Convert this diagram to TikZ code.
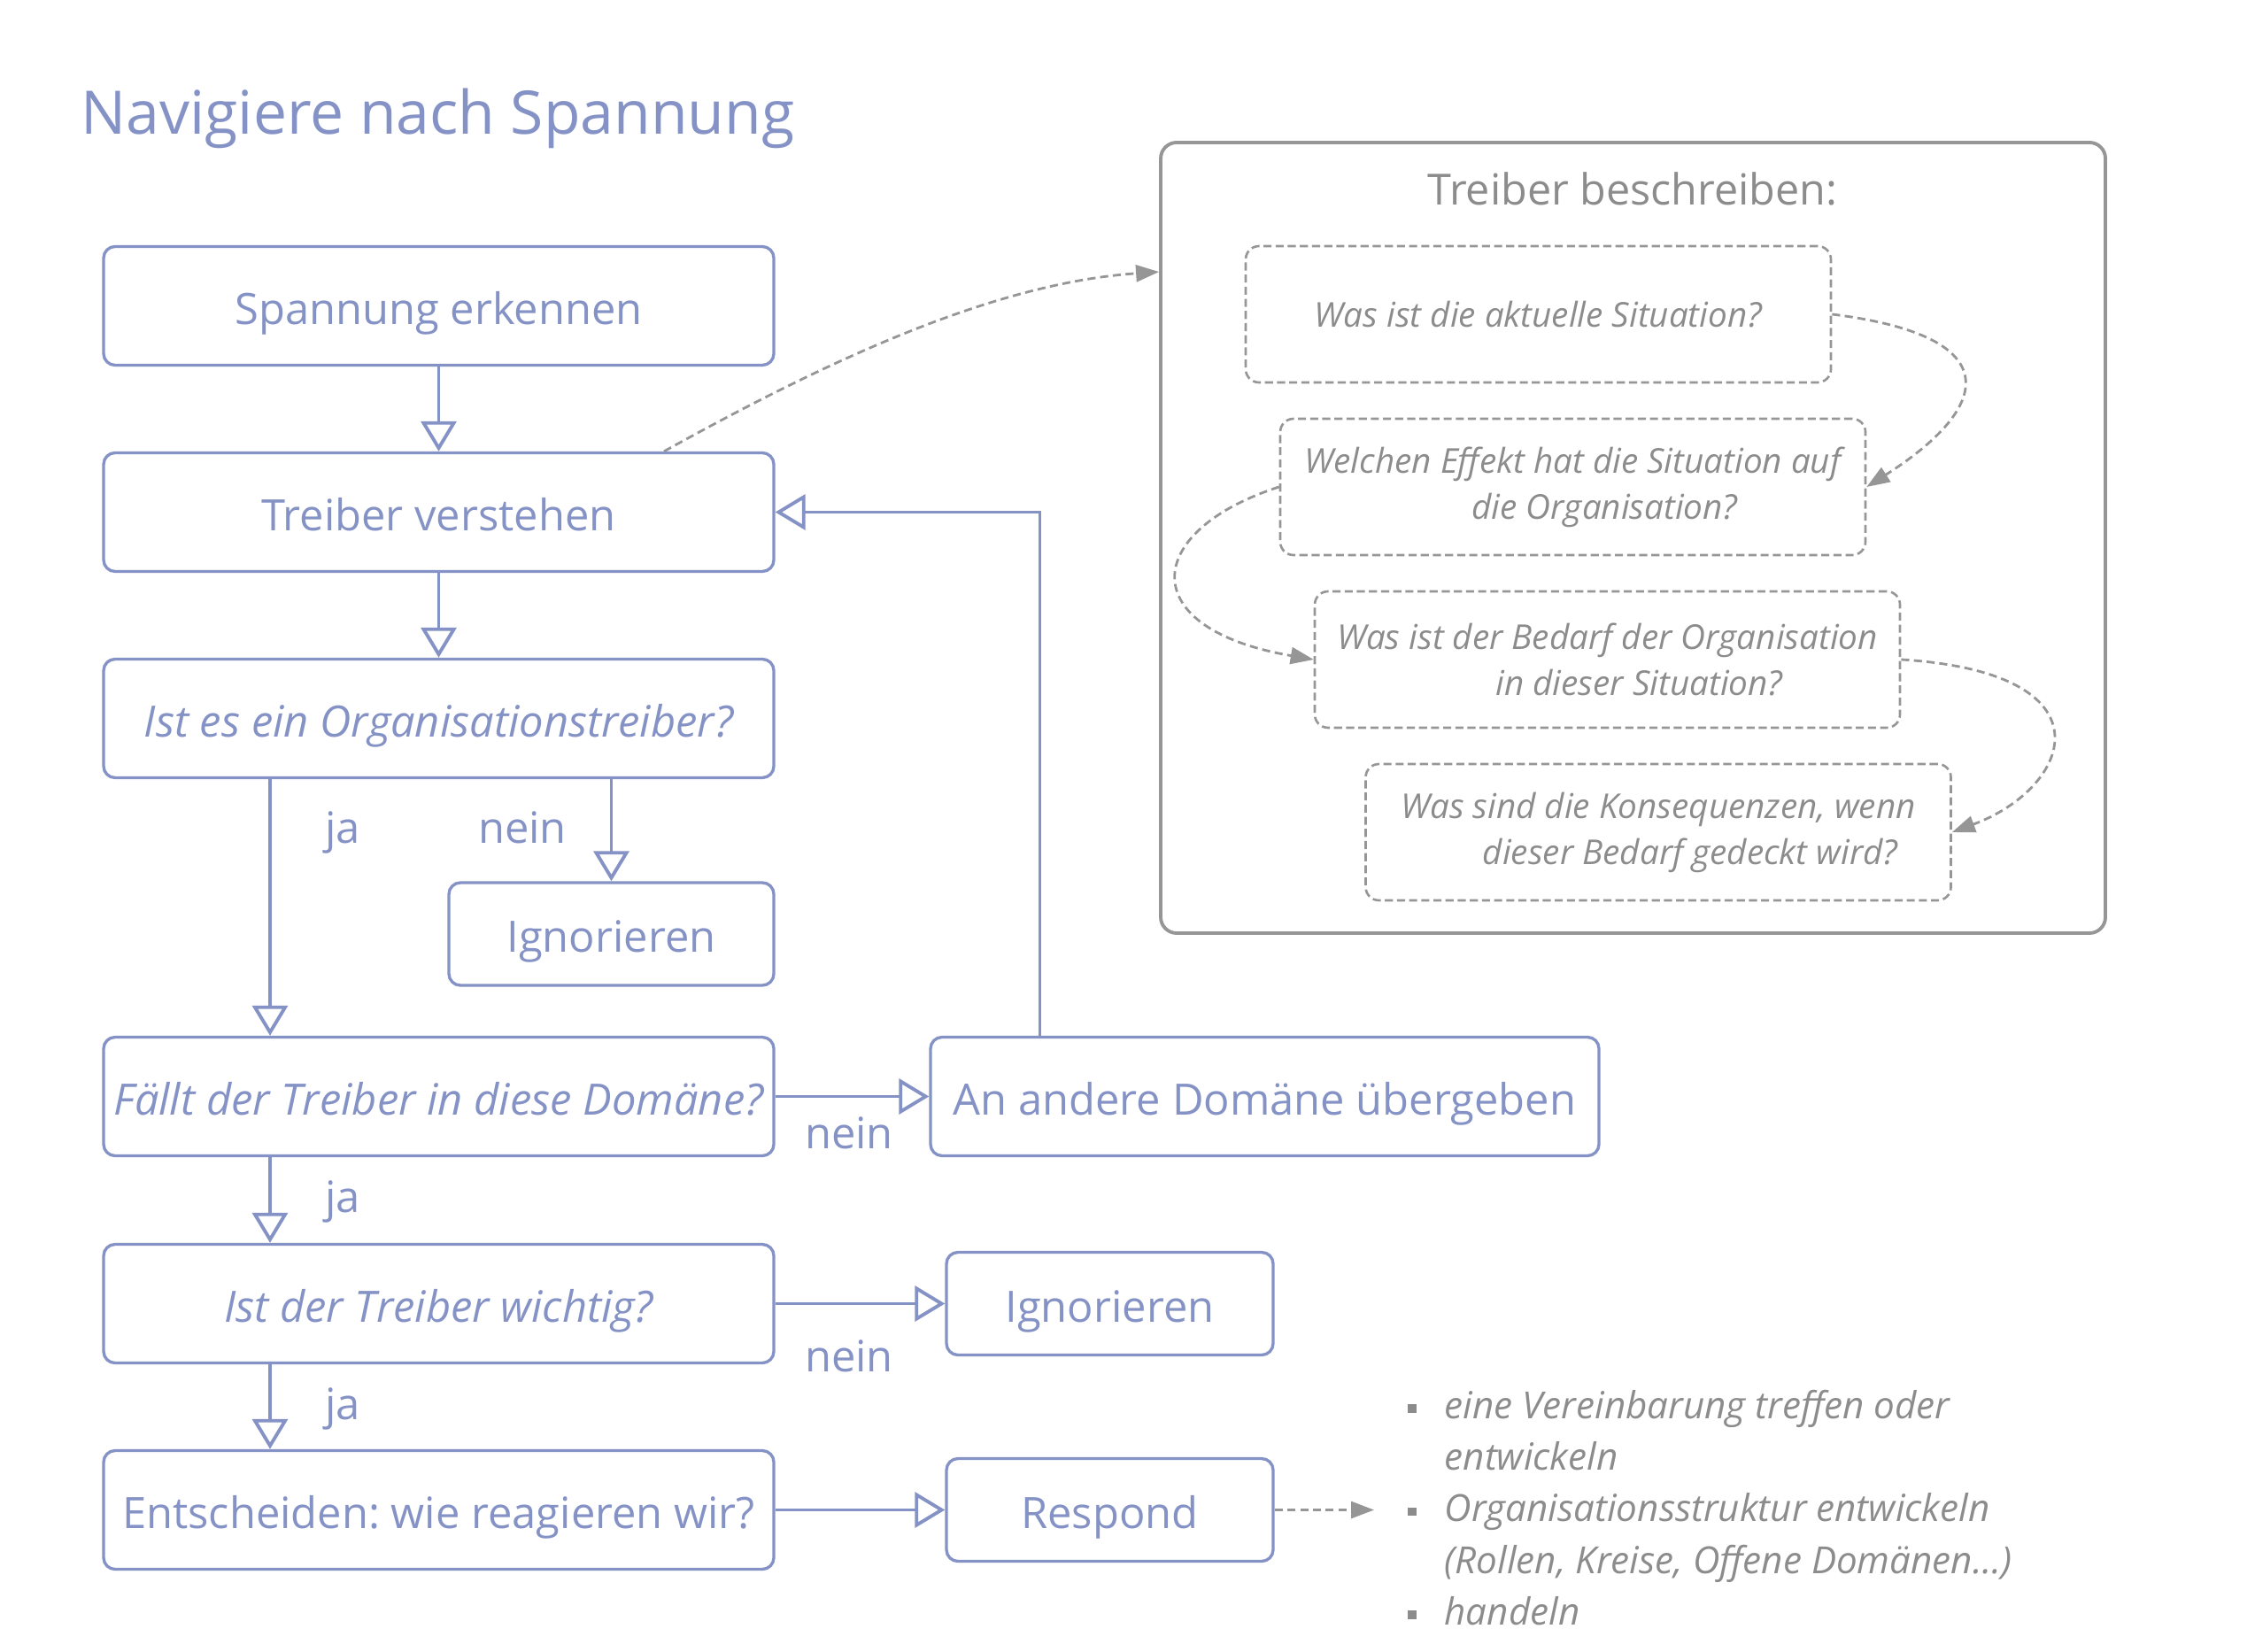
\documentclass[tikz,border=0pt]{standalone}
\usepackage{fontspec}
\setmainfont{Open Sans}
\usetikzlibrary{arrows.meta}
\definecolor{sblue}{RGB}{133,146,197}
\definecolor{sgrey}{RGB}{140,140,140}
\definecolor{sline}{RGB}{150,150,150}
\newcommand{\sqbul}{\textcolor{sgrey}{\rule[1.8pt]{2.8pt}{2.8pt}}}
\frenchspacing

\begin{document}
\begin{tikzpicture}[
 box/.style={draw=sblue, line width=0.95pt, rounded corners=0.13cm, text=sblue, font=\fontsize{13.9}{16}\selectfont, minimum width=7.57cm, minimum height=1.34cm, inner sep=0pt, text height=11.8pt, text depth=0pt},
 qbox/.style={box, font=\fontsize{13.9}{16}\selectfont\itshape},
 sbox/.style={box, minimum width=3.69cm, minimum height=1.16cm},
 askbox/.style={draw=sline, line width=0.75pt, dash pattern=on 2.6pt off 1.3pt, rounded corners=0.15cm, text=sgrey, font=\fontsize{11}{14.8}\selectfont\itshape, align=center, minimum width=6.61cm, minimum height=1.54cm, inner sep=0pt},
 flow/.style={draw=sblue, line width=1.1pt, -{Triangle[open,length=0.34cm,width=0.4cm]}},
 dflow/.style={draw=sline, line width=0.8pt, dash pattern=on 2.6pt off 1.5pt, -{Triangle[length=0.26cm,width=0.19cm]}},
 lbl/.style={text=sblue, font=\fontsize{13.9}{16}\selectfont, inner sep=0pt}
]
\useasboundingbox (0,0) rectangle (25.47,-18.66);

%Title
\node[anchor=base west, inner sep=0pt, text=sblue, font=\fontsize{19.3}{23}\selectfont] (title) at (0.91,-1.517) {Navigiere nach Spannung};

%Main column
\node[box] (s1) at (4.955,-3.455) {Spannung erkennen};
\node[box] (s2) at (4.955,-5.785) {Treiber verstehen};
\node[qbox] (q1) at (4.955,-8.115) {Ist es ein Organisationstreiber?};
\node[qbox] (q2) at (4.955,-12.385) {Fällt der Treiber in diese Domäne?};
\node[qbox] (q3) at (4.955,-14.725) {Ist der Treiber wichtig?};
\node[box] (dec) at (4.955,-17.055) {Entscheiden: wie reagieren wir?};

%Side boxes
\node[sbox, minimum width=3.67cm] (ign1) at (6.905,-10.55) {Ignorieren};
\node[box, minimum width=7.55cm] (pass) at (14.285,-12.385) {An andere Domäne übergeben};
\node[sbox] (ign2) at (12.535,-14.725) {Ignorieren};
\node[sbox] (resp) at (12.535,-17.055) {Respond};

\draw[flow] (s1) -- (s2); \draw[flow] (s2) -- (q1);
\draw[flow] ([xshift=-1.905cm]q1.south) -- ([xshift=-1.905cm]q2.north);
\draw[flow] (q1.south -| ign1.north) -- (ign1.north);
\draw[flow] (q2.east) -- (pass.west);
\draw[flow] ([xshift=-2.54cm]pass.north) |- (s2.east);
\draw[flow] ([xshift=-1.905cm]q2.south) -- ([xshift=-1.905cm]q3.north);
\draw[flow] (q3.east) -- (ign2.west);
\draw[flow] ([xshift=-1.905cm]q3.south) -- ([xshift=-1.905cm]dec.north);
\draw[flow] (dec.east) -- (resp.west);

\node[lbl, anchor=base] (ja1) at (3.87,-9.52) {ja}; \node[lbl, anchor=base] (nein1) at (5.90,-9.52) {nein};
\node[lbl, anchor=base] (nein2) at (9.59,-12.97) {nein};
\node[lbl, anchor=base] (ja2) at (3.87,-13.69) {ja};
\node[lbl, anchor=base] (nein3) at (9.59,-15.49) {nein};
\node[lbl, anchor=base] (ja3) at (3.87,-16.03) {ja};

%Treiber beschreiben
\node[draw=sline, line width=1.1pt, rounded corners=0.18cm, minimum width=10.67cm, minimum height=8.93cm] (desc) at (18.445,-6.075) {};
\node[anchor=base, inner sep=0pt, text=sgrey, font=\fontsize{13.8}{16}\selectfont] (desctitle) at (18.44,-2.32) {Treiber beschreiben:};
\node[askbox] (d1) at (17.375,-3.55) {Was ist die aktuelle Situation?};
\node[askbox] (d2) at (17.765,-5.50) {Welchen Effekt hat die Situation auf\\\hspace*{0.72cm}die Organisation?};
\node[askbox] (d3) at (18.155,-7.45) {Was ist der Bedarf der Organisation\\\hspace*{0.72cm}in dieser Situation?};
\node[askbox] (d4) at (18.73,-9.40) {Was sind die Konsequenzen, wenn\\\hspace*{0.72cm}dieser Bedarf gedeckt wird?};

\draw[dflow] ([xshift=2.545cm]s2.north) .. controls (9.3,-4.1) and (11.2,-3.2) .. ([yshift=-1.48cm]desc.north west);
\draw[dflow] (d1.east) .. controls (22.7,-3.8) and (22.5,-4.6) .. (d2.east);
\draw[dflow] (d2.west) .. controls (12.9,-6.0) and (12.8,-7.1) .. (d3.west);
\draw[dflow] (d3.east) .. controls (23.9,-7.6) and (23.4,-8.9) .. (d4.east);

%Respond list
\node[anchor=base west, inner sep=0pt, text=sgrey, font=\fontsize{12}{16.6}\selectfont\itshape] (acts) at (15.895,-16.02) {\begin{tabular}[t]{@{}l@{\hspace{9pt}}l@{}}
\sqbul & eine Vereinbarung treffen oder\\
 & entwickeln\\
\sqbul & Organisationsstruktur entwickeln\\
 & (Rollen, Kreise, Offene Domänen…)\\
\sqbul & handeln
\end{tabular}};
\coordinate (actsin) at (15.52,-17.055);
\draw[dflow] (resp.east) -- (actsin);

\end{tikzpicture}
\end{document}
